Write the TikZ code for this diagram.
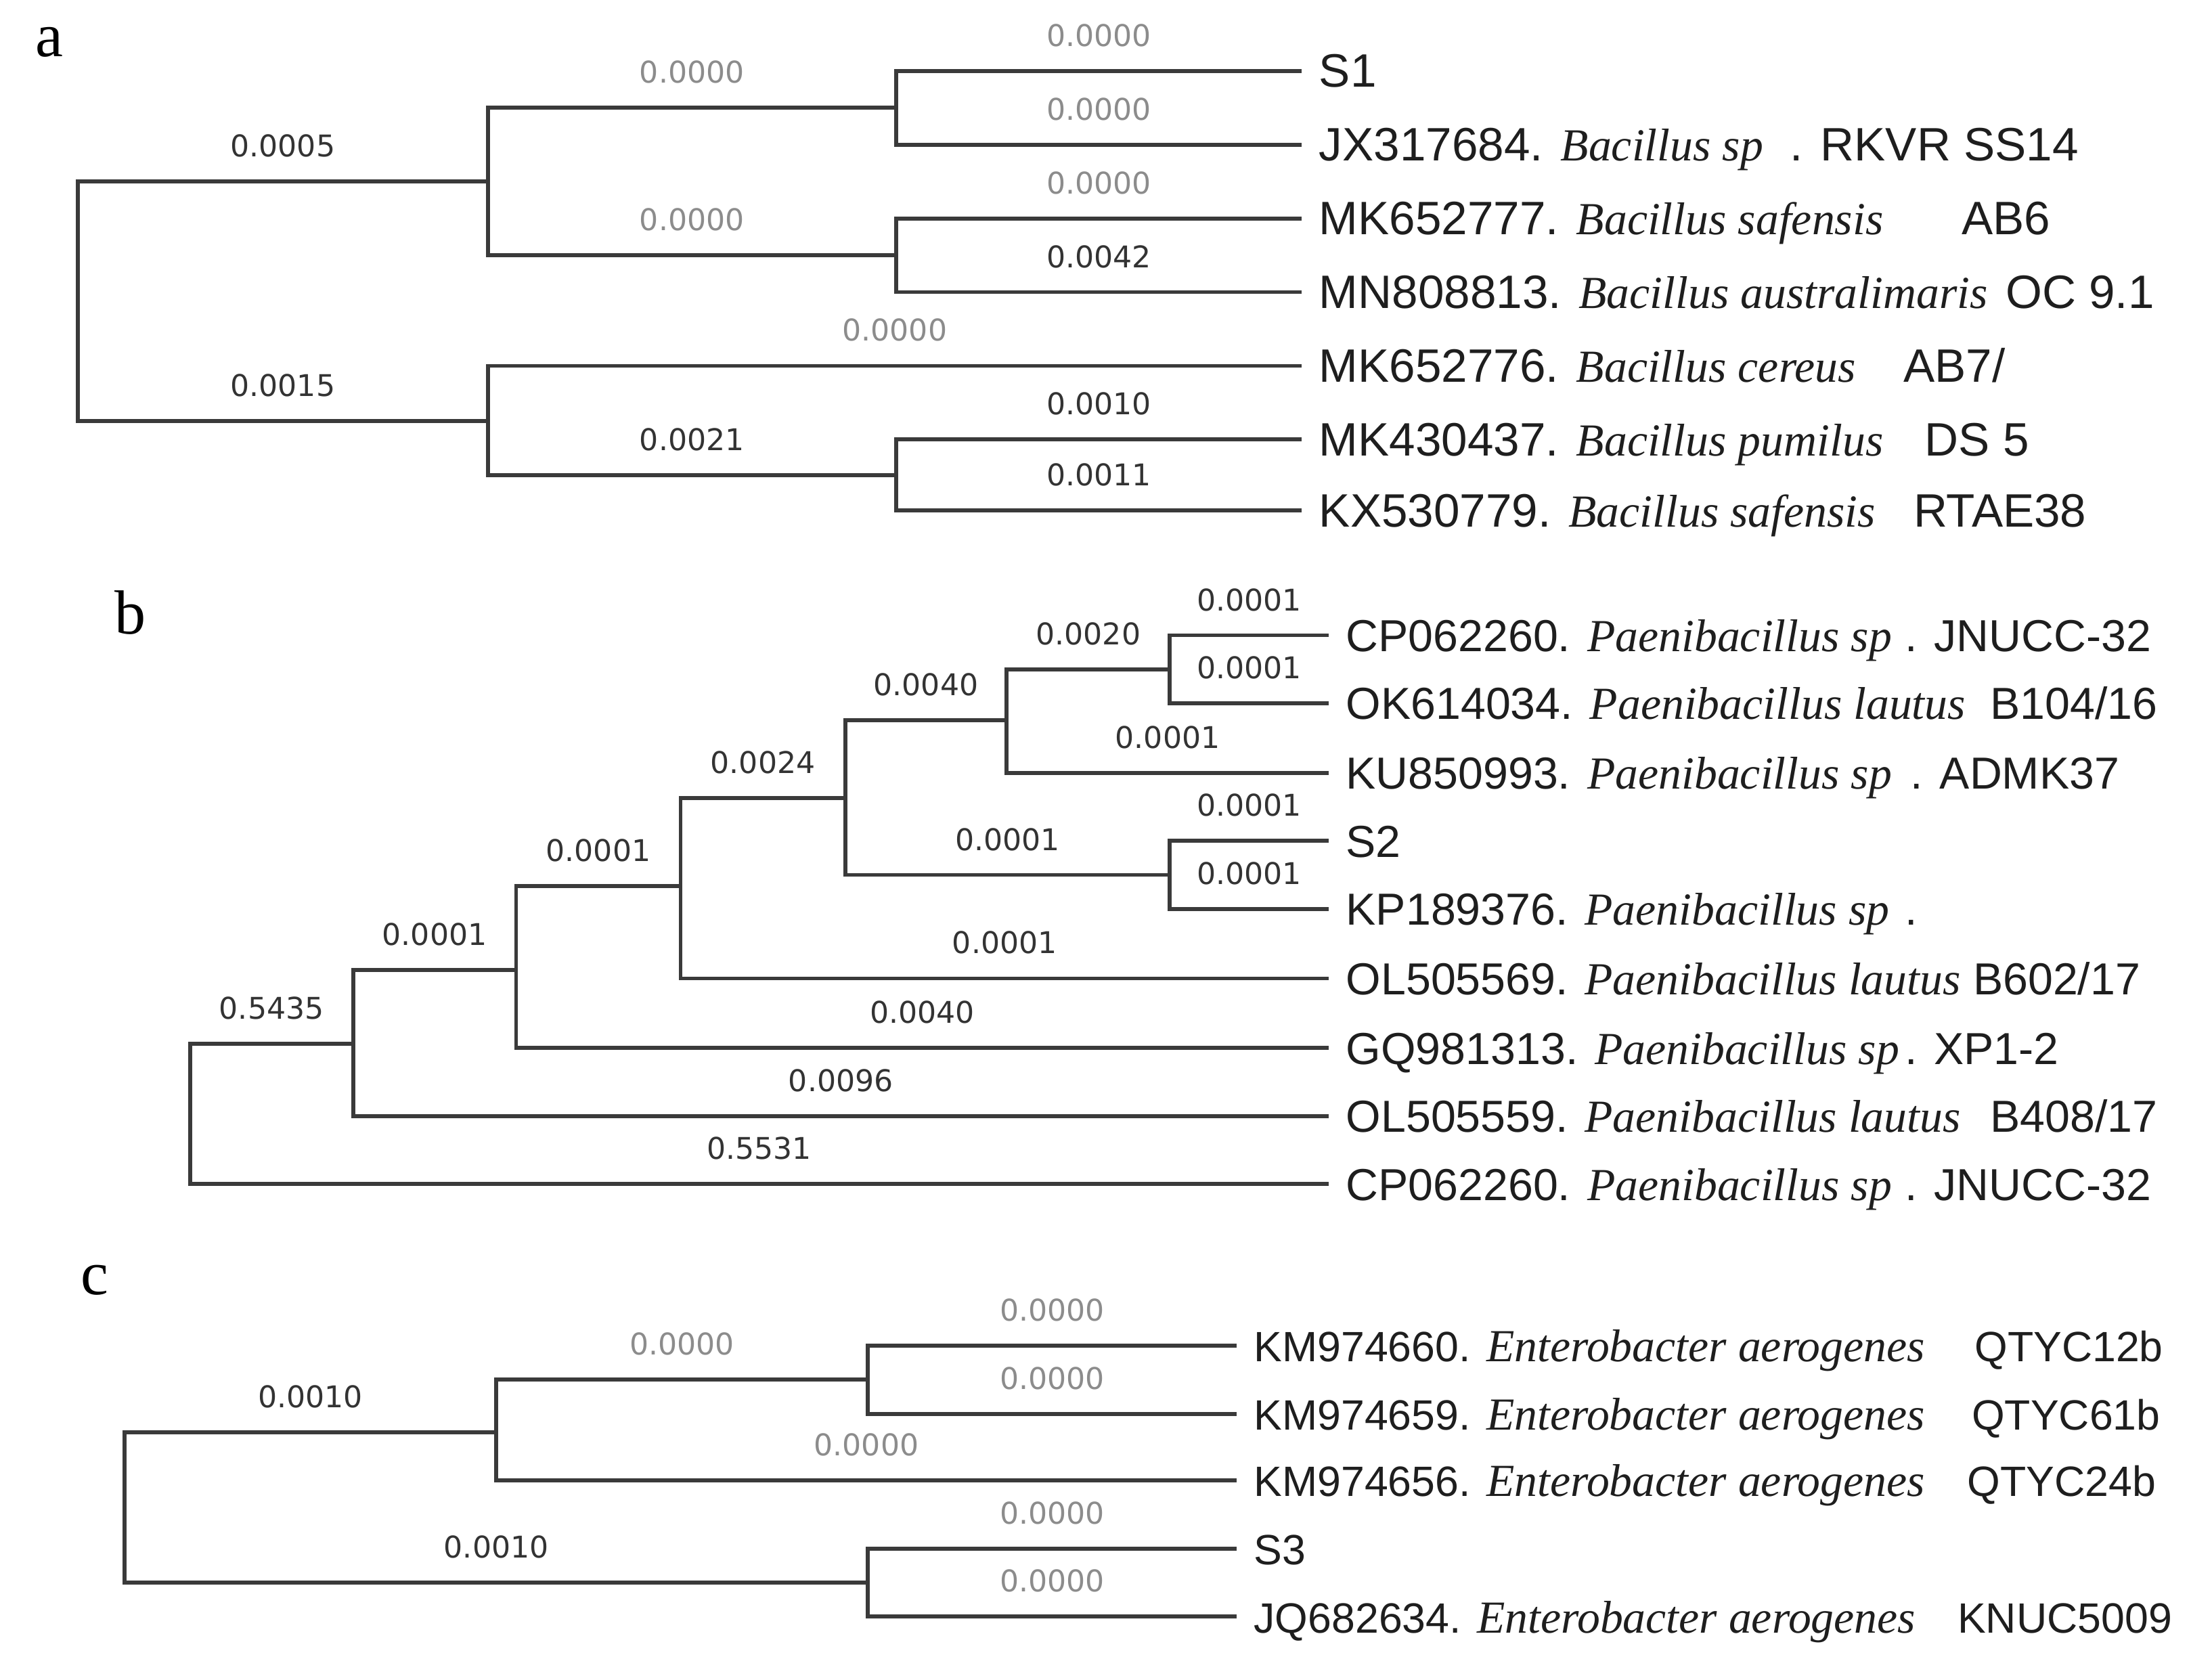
\documentclass[tikz,border=0pt]{standalone}
\usepackage{fontspec}
\setmainfont{Liberation Serif}
\newfontfamily\accfont{Liberation Sans}
\newfontfamily\spfont{Liberation Serif}
\newfontfamily\brfont{DejaVu Sans}
\usepackage{tikz}
\usetikzlibrary{positioning}
\definecolor{branch}{HTML}{3A3A3A}
\definecolor{zerolen}{HTML}{8C8C8C}
\definecolor{lentext}{HTML}{333333}
\definecolor{leaftext}{HTML}{1E1E1E}
\newcommand{\Taxon}[4]{\makebox[#1][l]{#2. {\spfont\itshape\fontsize{9.2}{9.2}\selectfont #3}}#4}

\tikzset{
  branch/.style={draw=branch, line width=0.8pt},
  leaf/.style={anchor=west, inner xsep=3.5pt, inner ysep=0pt, outer sep=0pt,
    text height=6.5pt, text depth=0pt, text=leaftext,
    font=\accfont\fontsize{#1}{#1}\selectfont},
  leaf/.default=9,
  blen/.style={pos=.75, anchor=south, inner sep=0pt, yshift=1.6mm,
    text depth=0pt, text=lentext, font=\brfont\fontsize{6}{6}\selectfont},
  bzero/.style={blen, text=zerolen},
  panel/.style={font=\fontsize{12.5}{12.5}\selectfont, text=black}
}

\begin{document}
\begin{tikzpicture}[x=0.01cm, y=-0.01cm]
		\path[use as bounding box, fill=white] (0,0) rectangle (1560,1167);

		% Panel a
		\node[panel] (pa) at (35,30) {a};
		\coordinate (a0) at (55,212);
		\coordinate (a1) at (344,128);
		\coordinate (a2) at (344,297);
		\coordinate (a3) at (632,76);
		\coordinate (a4) at (632,180);
		\coordinate (a5) at (632,335);
		\node[leaf=9.4] (S1) at (918,50) {S1};
		\node[leaf=9.4] (JX) at (918,102) {\Taxon{3.32cm}{JX317684}{Bacillus sp}{. RKVR SS14}};
		\node[leaf=9.4] (MK77) at (918,154) {\Taxon{4.53cm}{MK652777}{Bacillus safensis}{AB6}};
		\node[leaf=9.4] (MN) at (918,206) {\Taxon{4.84cm}{MN808813}{Bacillus australimaris}{OC 9.1}};
		\node[leaf=9.4] (MK76) at (918,258) {\Taxon{4.12cm}{MK652776}{Bacillus cereus}{AB7/}};
		\node[leaf=9.4] (MK43) at (918,310) {\Taxon{4.27cm}{MK430437}{Bacillus pumilus}{DS 5}};
		\node[leaf=9.4] (KX) at (918,360) {\Taxon{4.19cm}{KX530779}{Bacillus safensis}{RTAE38}};

		\draw[branch] (a0) |- node[blen] {0.0005} (a1);
		\draw[branch] (a0) |- node[blen] {0.0015} (a2);
		\draw[branch] (a1) |- node[bzero] {0.0000} (a3);
		\draw[branch] (a1) |- node[bzero] {0.0000} (a4);
		\draw[branch] (a3) |- node[bzero] {0.0000} (S1.west);
		\draw[branch] (a3) |- node[bzero] {0.0000} (JX.west);
		\draw[branch] (a4) |- node[bzero] {0.0000} (MK77.west);
		\draw[branch] (a4) |- node[blen] {0.0042} (MN.west);
		\draw[branch] (a2) |- node[bzero] {0.0000} (MK76.west);
		\draw[branch] (a2) |- node[blen] {0.0021} (a5);
		\draw[branch] (a5) |- node[blen] {0.0010} (MK43.west);
		\draw[branch] (a5) |- node[blen] {0.0011} (KX.west);

		% Panel b
		\node[panel] (pb) at (92,432) {b};
		\coordinate (b0) at (134,786);
		\coordinate (b1) at (249,736);
		\coordinate (b2) at (364,684);
		\coordinate (b3) at (480,625);
		\coordinate (b4) at (596,563);
		\coordinate (b5) at (710,508);
		\coordinate (b6) at (825,617);
		\coordinate (b7) at (825,472);
		\node[leaf] (CPa) at (937,448) {\Taxon{3.94cm}{CP062260}{Paenibacillus sp}{. JNUCC-32}};
		\node[leaf] (OK) at (937,496) {\Taxon{4.54cm}{OK614034}{Paenibacillus lautus}{B104/16}};
		\node[leaf] (KU) at (937,545) {\Taxon{3.98cm}{KU850993}{Paenibacillus sp}{. ADMK37}};
		\node[leaf] (S2) at (937,593) {S2};
		\node[leaf] (KP) at (937,641) {\Taxon{3.94cm}{KP189376}{Paenibacillus sp}{.}};
		\node[leaf] (OL69) at (937,690) {\Taxon{4.42cm}{OL505569}{Paenibacillus lautus}{B602/17}};
		\node[leaf] (GQ) at (937,739) {\Taxon{3.94cm}{GQ981313}{Paenibacillus sp}{. XP1-2}};
		\node[leaf] (OL59) at (937,787) {\Taxon{4.54cm}{OL505559}{Paenibacillus lautus}{B408/17}};
		\node[leaf] (CPb) at (937,835) {\Taxon{3.94cm}{CP062260}{Paenibacillus sp}{. JNUCC-32}};

		\draw[branch] (b0) |- node[blen] {0.5435} (b1);
		\draw[branch] (b0) |- node[blen] {0.5531} (CPb.west);
		\draw[branch] (b1) |- node[blen] {0.0001} (b2);
		\draw[branch] (b1) |- node[blen] {0.0096} (OL59.west);
		\draw[branch] (b2) |- node[blen] {0.0001} (b3);
		\draw[branch] (b2) |- node[blen] {0.0040} (GQ.west);
		\draw[branch] (b3) |- node[blen] {0.0024} (b4);
		\draw[branch] (b3) |- node[blen] {0.0001} (OL69.west);
		\draw[branch] (b4) |- node[blen] {0.0040} (b5);
		\draw[branch] (b4) |- node[blen] {0.0001} (b6);
		\draw[branch] (b5) |- node[blen] {0.0020} (b7);
		\draw[branch] (b5) |- node[blen] {0.0001} (KU.west);
		\draw[branch] (b7) |- node[blen] {0.0001} (CPa.west);
		\draw[branch] (b7) |- node[blen] {0.0001} (OK.west);
		\draw[branch] (b6) |- node[blen] {0.0001} (S2.west);
		\draw[branch] (b6) |- node[blen] {0.0001} (KP.west);

		% Panel c
		\node[panel] (pc) at (67,903) {c};
		\coordinate (c0) at (88,1063);
		\coordinate (c1) at (350,1010);
		\coordinate (c2) at (612,973);
		\coordinate (c3) at (612,1116);
		\node[leaf=8.5] (KM60) at (872,949) {\Taxon{5.08cm}{KM974660}{Enterobacter aerogenes}{QTYC12b}};
		\node[leaf=8.5] (KM59) at (872,997) {\Taxon{5.06cm}{KM974659}{Enterobacter aerogenes}{QTYC61b}};
		\node[leaf=8.5] (KM56) at (872,1044) {\Taxon{5.03cm}{KM974656}{Enterobacter aerogenes}{QTYC24b}};
		\node[leaf=8.5] (S3) at (872,1092) {S3};
		\node[leaf=8.5] (JQ) at (872,1140) {\Taxon{4.96cm}{JQ682634}{Enterobacter aerogenes}{KNUC5009}};

		\draw[branch] (c0) |- node[blen] {0.0010} (c1);
		\draw[branch] (c0) |- node[blen] {0.0010} (c3);
		\draw[branch] (c1) |- node[bzero] {0.0000} (c2);
		\draw[branch] (c1) |- node[bzero] {0.0000} (KM56.west);
		\draw[branch] (c2) |- node[bzero] {0.0000} (KM60.west);
		\draw[branch] (c2) |- node[bzero] {0.0000} (KM59.west);
		\draw[branch] (c3) |- node[bzero] {0.0000} (S3.west);
		\draw[branch] (c3) |- node[bzero] {0.0000} (JQ.west);
	\end{tikzpicture}
\end{document}
